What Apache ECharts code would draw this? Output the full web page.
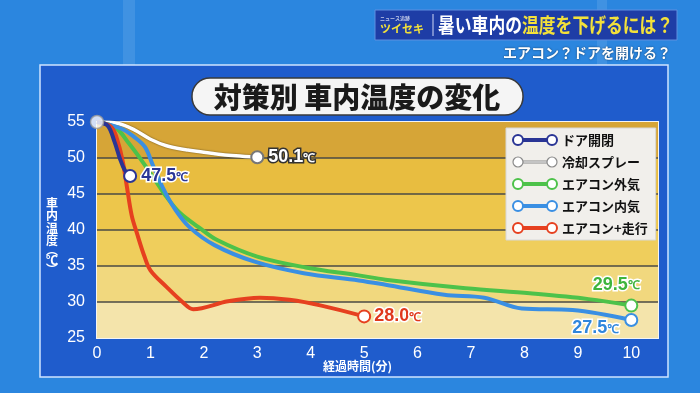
<!DOCTYPE html>
<html><head><meta charset="utf-8">
<script src="https://cdn.jsdelivr.net/npm/echarts@6/dist/echarts.min.js"></script>
<style>html,body{margin:0;padding:0;background:#2b86df;}#c{width:700px;height:393px;}</style>
</head><body><div id="c"></div>
<script>
// ---- data (time in minutes, temperature in °C) ----
const seriesNames = ['ドア開閉', '冷却スプレー', 'エアコン外気', 'エアコン内気', 'エアコン+走行'];
const doorOpen = [[0,55],[0.2,54.5],[0.33,52.2],[0.43,49.9],[0.52,48.3],[0.62,47.5]];
const coolSpray = [[0,55],[0.4,54.8],[0.7,53.9],[1.0,52.6],[1.3,51.7],[1.7,51.1],[2.2,50.6],[2.6,50.3],[3,50.1]];
const acOutside = [[0,55],[0.35,54.2],[0.6,52],[0.85,49.5],[1.1,46.8],[1.3,44.6],[1.55,42.4],[1.9,40.4],[2.25,38.6],[3,36.3],[3.9,34.8],[4.9,33.7],[5.4,33.1],[6.9,31.9],[8.1,31.2],[9.2,30.4],[10,29.5]];
const acRecirc = [[0,55],[0.45,54.1],[0.7,52.9],[0.9,51.5],[1.05,48.9],[1.25,45.6],[1.45,43],[1.73,40.4],[2.2,37.9],[2.95,35.6],[3.87,34.0],[4.9,33.0],[5.4,32.4],[6.5,31.0],[7.25,30.6],[7.95,29.1],[8.9,28.9],[10,27.5]];
const acDriving = [[0,55],[0.27,54.3],[0.4,52],[0.49,49.2],[0.56,46],[0.65,42],[0.75,39.5],[0.88,36.5],[1.0,34.4],[1.3,32.1],[1.6,30],[1.8,29],[2.45,30.1],[3.05,30.6],[3.6,30.3],[4.2,29.5],[5,28.0]];
const xTicks = [0,1,2,3,4,5,6,7,8,9,10];
const yTicks = [25,30,35,40,45,50,55];

const FONT_JP = '"Noto Sans CJK JP", "Noto Sans", sans-serif';
const FONT_NUM = '"Liberation Sans", Arial, sans-serif';
const colors = ['#2a3595', '#ffffff', '#4dc24a', '#3a8fe3', '#e6401f'];

function endLabel(color, border, extra) {
  return Object.assign({
    show: true,
    formatter: p => '{n|' + p.value[1].toFixed(1) + '}{u|℃}',
    rich: {
      n: { fontSize: 18, fontWeight: 'bold', fontFamily: FONT_NUM, color: color, textBorderColor: border, textBorderWidth: 3 },
      u: { fontSize: 12, fontWeight: 'bold', fontFamily: FONT_NUM, color: color, textBorderColor: border, textBorderWidth: 3, padding: [3, 0, 0, 0] }
    }
  }, extra);
}

function makeData(points, color, label, borderColor) {
  return points.map((p, i) => {
    if (i === points.length - 1) {
      return { value: p, symbol: 'circle', symbolSize: 12,
        itemStyle: { color: '#fff', borderColor: borderColor || color, borderWidth: 2 }, label: label };
    }
    return { value: p, symbol: 'none' };
  });
}

function lineSeries(idx, points, label, extraLine, borderColor) {
  return {
    name: seriesNames[idx], type: 'line', smooth: 0.35,
    symbol: 'circle', showSymbol: true,
    lineStyle: Object.assign({ color: colors[idx], width: 4 }, extraLine || {}),
    itemStyle: { color: colors[idx] },
    data: makeData(points, colors[idx], label, borderColor),
    z: 3, emphasis: { disabled: true }
  };
}

const legendIcon = 'path://M0,5A5,5,0,1,1,10,5A5,5,0,1,1,0,5ZM10,4L34,4L34,6L10,6ZM34,5A5,5,0,1,1,44,5A5,5,0,1,1,34,5Z';
const legendBorders = ['#2a3595', '#8a8a8a', '#4dc24a', '#3a8fe3', '#e6401f'];
const legendBorderWidths = [2, 1.2, 2, 2, 2];

const chart = echarts.init(document.getElementById('c'), null, { renderer: 'canvas' });
chart.setOption({
  animation: false,
  backgroundColor: '#2b86df',
  graphic: [
    { type: 'rect', z: -10, shape: { x: 123, y: 0, width: 12, height: 65 }, style: { fill: 'rgba(255,255,255,0.10)' } },
    { type: 'rect', z: -10, shape: { x: 597, y: 0, width: 10, height: 65 }, style: { fill: 'rgba(255,255,255,0.10)' } },
    { type: 'rect', z: -9, shape: { x: 40, y: 65, width: 628, height: 312 }, style: { fill: '#1f5ccc', stroke: '#cfe3ff', lineWidth: 1.5 } },
    // header banner
    { type: 'rect', z: 5, shape: { x: 375, y: 10, width: 302, height: 30 }, style: { fill: '#1e3da6', stroke: '#5f8fe0', lineWidth: 1 } },
    { type: 'text', z: 6, style: { x: 380, y: 16, text: 'ニュース追跡', fontSize: 5, fill: '#fff', fontFamily: FONT_JP } },
    { type: 'text', z: 6, style: { x: 380, y: 29, text: 'ツイセキ', fontSize: 11, fontWeight: 'bold', fill: '#f3e13a', fontFamily: FONT_JP, verticalAlign: 'middle' } },
    { type: 'line', z: 6, shape: { x1: 433, y1: 14, x2: 433, y2: 36 }, style: { stroke: '#cfd8f5', lineWidth: 1 } },
    { type: 'text', z: 6, x: 438, y: 25, scaleX: 0.84, style: { x: 0, y: 0, text: '{w|暑い車内の}{y|温度を下げるには？}', verticalAlign: 'middle', fontFamily: FONT_JP,
      rich: { w: { fontSize: 20, fontWeight: 'bold', fill: '#fff', fontFamily: FONT_JP }, y: { fontSize: 20, fontWeight: 'bold', fill: '#f3e13a', fontFamily: FONT_JP } } } },
    { type: 'text', z: 6, style: { x: 671, y: 53, text: 'エアコン？ドアを開ける？', fontSize: 14, fontWeight: 'bold', fill: '#fff', align: 'right', verticalAlign: 'middle', fontFamily: FONT_JP, textShadowColor: 'rgba(0,0,0,0.6)', textShadowBlur: 2 } },
    // title pill
    { type: 'rect', z: 5, shape: { x: 192, y: 78, width: 331, height: 37, r: 18 }, style: { fill: '#f5f5f5', stroke: '#3a3a3a', lineWidth: 1.5 } },
    { type: 'text', z: 6, style: { x: 357, y: 97, text: '対策別 車内温度の変化', fontSize: 28, fontWeight: 900, fill: '#1a1a1a', align: 'center', verticalAlign: 'middle', fontFamily: FONT_JP } },
    // y-axis name (vertical)
    { type: 'text', z: 6, style: { x: 52, y: 235, align: 'center', verticalAlign: 'middle', fontFamily: FONT_JP,
      text: '{a|車}\n{a|内}\n{a|温}\n{a|度}\n{p|︵}\n{a|℃}\n{p|︶}',
      rich: { a: { fontSize: 12, lineHeight: 12.5, fill: '#fff', fontWeight: 'bold', fontFamily: FONT_JP, align: 'center' },
              p: { fontSize: 12, lineHeight: 7, fill: '#fff', fontWeight: 'bold', fontFamily: FONT_JP, align: 'center' } } } }
  ],
  grid: { left: 97, right: 42, top: 122, bottom: 55, show: true, borderColor: '#f4f4f4', borderWidth: 2, backgroundColor: 'transparent' },
  legend: {
    left: 506, top: 128, orient: 'vertical',
    backgroundColor: '#f1efeb', borderColor: '#d8d8d8', borderWidth: 1,
    padding: [5, 8, 5, 6], itemGap: 8, itemWidth: 44, itemHeight: 10,
    icon: legendIcon,
    textStyle: { color: '#111', fontSize: 13, fontWeight: 'bold', fontFamily: FONT_JP, lineHeight: 14 },
    selectedMode: false,
    data: seriesNames.map((n, i) => ({ name: n, icon: legendIcon, itemStyle: { color: '#fff', borderColor: legendBorders[i], borderWidth: legendBorderWidths[i] } }))
  },
  xAxis: {
    type: 'value', min: 0, max: 10.5, interval: 1,
    axisLine: { show: false }, axisTick: { show: false }, splitLine: { show: false },
    axisLabel: { color: '#fff', fontSize: 16, margin: 8, fontFamily: FONT_NUM,
      formatter: v => (xTicks.indexOf(v) >= 0 ? String(v) : '') },
    name: '経過時間(分)', nameLocation: 'middle', nameGap: 22, nameMoveOverlap: false,
    nameTextStyle: { color: '#fff', fontSize: 12, fontWeight: 'bold', fontFamily: FONT_JP, padding: [0, 40, 0, 0] }
  },
  yAxis: {
    type: 'value', min: yTicks[0], max: yTicks[yTicks.length - 1], interval: 5,
    axisLine: { show: false }, axisTick: { show: false },
    axisLabel: { color: '#fff', fontSize: 16, margin: 12, fontFamily: FONT_NUM },
    splitLine: { show: true, lineStyle: { color: ['transparent', '#4a4a44', '#4a4a44', '#4a4a44', '#4a4a44', '#4a4a44', 'transparent'], width: 1.5 } },
    splitArea: { show: true, areaStyle: { color: ['#f4e4ab', '#f1d87e', '#efce5c', '#edc64b', '#e8bd40', '#d6a537'] } }
  },
  series: [
    lineSeries(1, coolSpray, endLabel('#ffffff', '#333', { position: 'right', distance: 4 }),
      { width: 3.5, shadowColor: 'rgba(0,0,0,0.55)', shadowBlur: 2 }, '#777'),
    lineSeries(2, acOutside, endLabel('#3fb43c', '#fff', { position: 'top', distance: 5, offset: [-15, 0] })),
    lineSeries(3, acRecirc, endLabel('#2f86dc', '#fff', { position: 'left', distance: 5, offset: [0, 8] })),
    lineSeries(4, acDriving, endLabel('#e0381c', '#fff', { position: 'right', distance: 3 })),
    lineSeries(0, doorOpen, endLabel('#2a3595', '#fff', { position: 'right', distance: 4 })),
    {
      name: 'start', type: 'scatter', z: 5, symbolSize: 13,
      itemStyle: { color: '#fff', borderColor: '#9a9a9a', borderWidth: 1.5 },
      data: [doorOpen[0]], emphasis: { disabled: true }
    }
  ]
});
</script>
</body></html>
